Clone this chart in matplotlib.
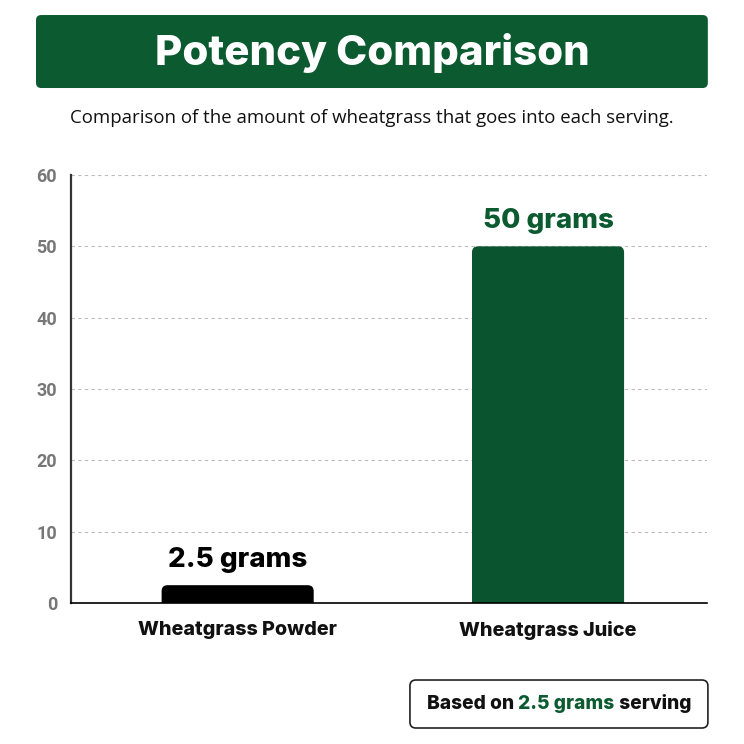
import matplotlib
matplotlib.use("Agg")
import matplotlib.pyplot as plt
from matplotlib.patches import FancyBboxPatch
from matplotlib.offsetbox import TextArea, HPacker, AnchoredOffsetbox

categories = ["Wheatgrass Powder", "Wheatgrass Juice"]
values = [2.5, 50]
value_labels = ["2.5 grams", "50 grams"]
yticks = [0, 10, 20, 30, 40, 50, 60]
title = "Potency Comparison"
subtitle = "Comparison of the amount of wheatgrass that goes into each serving."

GREEN = "#0b5a30"
BAR_COLORS = ["#000000", "#0b5430"]
LABEL_COLORS = ["#000000", GREEN]
FONT = ["Inter", "DejaVu Sans"]

fig = plt.figure(figsize=(7.44, 7.44), dpi=100)
fig.patch.set_facecolor("white")

# Banner
fig.patches.append(FancyBboxPatch((0.0484, 0.8817), 0.903, 0.0981,
                                  boxstyle="round,pad=0,rounding_size=0.007",
                                  transform=fig.transFigure, facecolor=GREEN,
                                  edgecolor="none"))
fig.text(0.5, 0.929, title, ha="center", va="center", color="white",
         fontsize=30.2, fontweight="heavy", family=FONT)
fig.text(0.5, 0.8414, subtitle, ha="center", va="center", color="#111111",
         fontsize=13.4, fontweight="medium", family=["Open Sans", "DejaVu Sans"])

ax = fig.add_axes([0.0954, 0.1895, 0.8548, 0.5753])
x = list(range(len(categories)))
bars = ax.bar(x, values, width=0.49, color=BAR_COLORS)
ax.set_xlim(-0.537, 1.512)
ax.set_ylim(0, 60)

# Replace bars with rounded-top versions
xpx = 0.8548 * 744 / (1.512 + 0.537)
ypx = 0.5753 * 744 / 60
r = 6
for b, c in zip(bars, BAR_COLORS):
    b.set_visible(False)
    rx = r / xpx
    ry = r / ypx
    p = FancyBboxPatch((b.get_x(), -3), b.get_width(), b.get_height() + 3,
                       boxstyle=f"round,pad=0,rounding_size={rx}",
                       mutation_aspect=ry / rx, facecolor=c, edgecolor="none",
                       zorder=3, clip_on=True)
    ax.add_patch(p)

for xi, v, lab, col in zip(x, values, value_labels, LABEL_COLORS):
    ax.annotate(lab, (xi, v), xytext=(0, 9), textcoords="offset points",
                ha="center", va="bottom", fontsize=20, fontweight="heavy",
                color=col, family=FONT)

ax.set_yticks(yticks)
ax.set_xticks(x)
ax.set_xticklabels(categories, fontsize=14.2, fontweight="heavy", family=FONT,
                   color="#111111")
ax.tick_params(axis="x", length=0, pad=13)
ax.tick_params(axis="y", length=0, pad=10, labelsize=13, labelcolor="#777777")
for t in ax.get_yticklabels():
    t.set_fontweight("bold")
    t.set_family(["Liberation Sans Narrow", "Roboto", "DejaVu Sans"])

ax.grid(axis="y", linestyle=(0, (3, 3)), color="#bbbbbb", linewidth=0.8)
ax.set_axisbelow(True)
for s in ["top", "right"]:
    ax.spines[s].set_visible(False)
ax.spines["left"].set_color("#333333")
ax.spines["left"].set_linewidth(1.6)
ax.spines["bottom"].set_color("#000000")
ax.spines["bottom"].set_linewidth(1.2)
ax.spines["bottom"].set_zorder(4)

# Footnote box
fig.patches.append(FancyBboxPatch((0.551, 0.0215), 0.4005, 0.0645,
                                  boxstyle="round,pad=0,rounding_size=0.008",
                                  transform=fig.transFigure, facecolor="white",
                                  edgecolor="#222222", linewidth=1.2))
props = dict(fontsize=13.8, fontweight="heavy", family=FONT)
parts = [TextArea("Based on ", textprops=dict(color="#111111", **props)),
         TextArea("2.5 grams", textprops=dict(color=GREEN, **props)),
         TextArea(" serving", textprops=dict(color="#111111", **props))]
pack = HPacker(children=parts, align="baseline", pad=0, sep=0)
ab = AnchoredOffsetbox(loc="center", child=pack, frameon=False,
                       bbox_to_anchor=(0.7513, 0.0538),
                       bbox_transform=fig.transFigure, pad=0, borderpad=0)
fig.artists.append(ab)
ab.set_figure(fig)

fig.savefig("out.png", dpi=100, facecolor="white")
